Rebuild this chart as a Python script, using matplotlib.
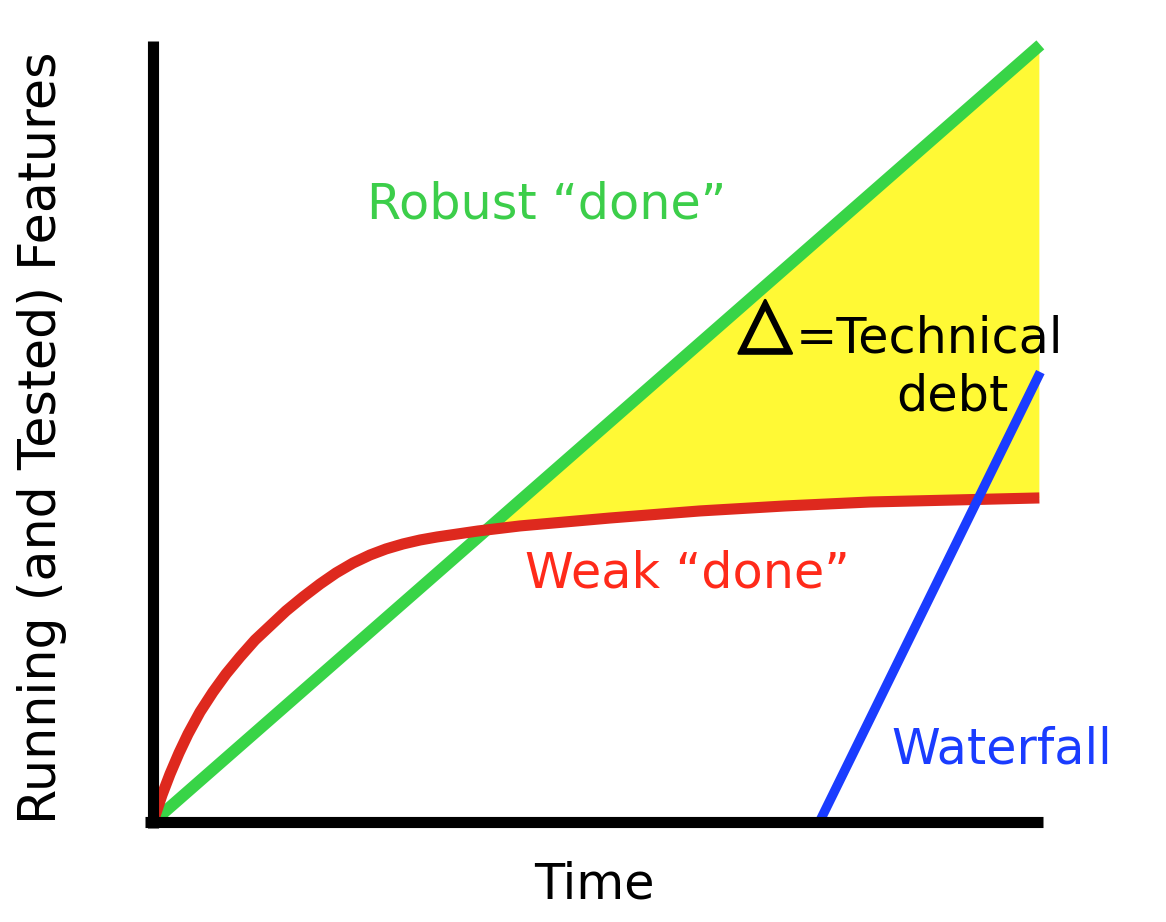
import matplotlib
matplotlib.use("Agg")
import matplotlib.pyplot as plt
import matplotlib.patheffects as pe
import numpy as np

# values, time and features both on a 0..100 scale
robust_x = [0, 100]
robust_y = [0, 100]

weak_x = [0, 1.01, 1.92, 2.93, 3.95, 5.30, 6.76, 8.23, 9.81, 11.50, 13.19, 14.99, 16.91,
          18.83, 20.63, 22.55, 24.46, 26.27, 28.18, 30.10, 32.02, 36.64, 41.38, 46.45,
          51.52, 61.67, 71.25, 80.83, 90.42, 99.89]
weak_y = [0, 3.47, 6.18, 8.88, 11.33, 14.16, 16.73, 19.05, 21.24, 23.42, 25.23, 27.16, 28.96,
          30.63, 32.05, 33.33, 34.36, 35.14, 35.78, 36.29, 36.68, 37.45, 38.10, 38.61,
          39.12, 40.03, 40.67, 41.18, 41.44, 41.70]

waterfall_x = [75.1, 100]
waterfall_y = [0, 57.9]

fig = plt.figure(figsize=(11.66, 9.22), dpi=100)
ax = fig.add_axes([153/1166, 100/922, 890/1166, 781/922])
ax.set_xlim(0, 100.3)
ax.set_ylim(0, 100.5)

# technical debt = gap between robust and weak "done"
robust_at_weak = np.interp(weak_x, robust_x, robust_y)
ax.fill_between(weak_x, weak_y, robust_at_weak, where=robust_at_weak >= np.array(weak_y),
                interpolate=True, color='#fff935', linewidth=0, zorder=1)

ax.plot(robust_x, robust_y, color='#38d447', lw=8.6, solid_capstyle='butt', zorder=2, clip_on=False)
ax.plot(weak_x, weak_y, color='#de291e', lw=8.0, solid_capstyle='butt', solid_joinstyle='round',
        zorder=3, clip_on=False)
ax.plot(waterfall_x, waterfall_y, color='#1a3cff', lw=6.8, solid_capstyle='butt', zorder=4, clip_on=False)

for s in ['top', 'right']:
    ax.spines[s].set_visible(False)
for s in ['left', 'bottom']:
    ax.spines[s].set_linewidth(8)
    ax.spines[s].set_color('black')
    ax.spines[s].set_capstyle('butt')
    ax.spines[s].set_zorder(5)
ax.spines['left'].set_bounds(-0.75, 100.5)
ax.spines['bottom'].set_bounds(-0.9, 100.3)
ax.set_xticks([])
ax.set_yticks([])

fs = 35.5
ax.text(44.4, 79.4, 'Robust \u201cdone\u201d', color='#3cce4a', fontsize=fs, ha='center', va='center')
ax.text(60.2, 32.0, 'Weak \u201cdone\u201d', color='#ff2a1a', fontsize=fs, ha='center', va='center')
ax.text(95.6, 9.3, 'Waterfall', color='#1a3cff', fontsize=fs, ha='center', va='center')
ax.text(69.0, 61.4, '\u25b3', color='black', fontsize=50, fontweight='bold', ha='center', va='baseline',
        path_effects=[pe.withStroke(linewidth=2.0, foreground='black', capstyle='round')])
ax.text(72.4, 60.4, '=Technical', color='black', fontsize=fs, ha='left', va='baseline')
ax.text(90.1, 53.0, 'debt', color='black', fontsize=fs, ha='center', va='baseline')

ax.text(49.7, -8.1, 'Time', color='black', fontsize=fs, ha='center', va='center', clip_on=False)
ax.text(-12.5, 49.5, 'Running (and Tested) Features', color='black', fontsize=36.5,
        rotation=90, ha='center', va='center', clip_on=False)

fig.savefig("out.png", dpi=100)
